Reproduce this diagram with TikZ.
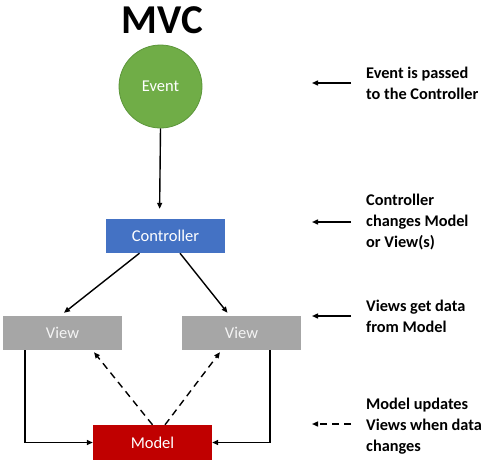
\documentclass[tikz,border=0pt]{standalone}
\usepackage{fontspec}
\setmainfont{Carlito}
\usetikzlibrary{arrows.meta}
\definecolor{evgreen}{HTML}{70AD47}
\definecolor{evgreenb}{HTML}{5B9539}
\definecolor{ctblue}{HTML}{4472C4}
\definecolor{vwgray}{HTML}{A6A6A6}
\definecolor{mdred}{HTML}{C00000}
\definecolor{vwtext}{HTML}{F4F4F4}
\tikzset{
  boxnode/.style={rectangle, minimum width=119pt, minimum height=34pt, inner sep=0pt,
    font=\fontsize{16.5}{20}\selectfont, text=white},
  conn/.style={line width=1.4pt, -{Triangle[length=6pt,width=5pt]}},
  dconn/.style={conn, dash pattern=on 7pt off 5pt},
  annot/.style={anchor=west, inner sep=0pt, align=left,
    font=\fontsize{16.3}{21}\selectfont\bfseries},
}
\begin{document}
\begin{tikzpicture}[x=1pt,y=-1pt]
\useasboundingbox (0,0) rectangle (500,474);
\node[anchor=base, inner sep=0pt, font=\fontsize{41}{44}\selectfont\bfseries] (title) at (162.5,33) {MVC};
\node[circle, fill=evgreen, draw=evgreenb, line width=0.8pt, minimum size=83pt, inner sep=0pt,
  font=\fontsize{16.5}{20}\selectfont, text=white] (event) at (160.5,86.5) {Event};
\node[boxnode, fill=ctblue] (ctrl) at (165.5,236) {Controller};
\node[boxnode, fill=vwgray, text=vwtext] (view1) at (62.5,333) {View};
\node[boxnode, fill=vwgray, text=vwtext] (view2) at (241.5,333) {View};
\node[boxnode, fill=mdred, minimum height=35pt] (model) at (152.5,442.5) {Model};

\draw[conn, shorten >=10pt] (event.south) -- ([xshift=-6pt]ctrl.north);
\draw[conn] ([xshift=-26pt]ctrl.south) -- ([xshift=1.5pt,yshift=3pt]view1.north);
\draw[conn] ([xshift=14.5pt]ctrl.south) -- ([xshift=-14pt,yshift=3pt]view2.north);
\draw[conn] ([xshift=-37.5pt]view1.south) |- (model.west);
\draw[conn] ([xshift=28.5pt]view2.south) |- (model.east);
\draw[dconn] ([xshift=0pt]model.north) -- ([xshift=31.5pt,yshift=-2pt]view1.south);
\draw[dconn] ([xshift=12.5pt]model.north) -- ([xshift=-21.5pt,yshift=-2pt]view2.south);

\coordinate (a1s) at (351,83);  \coordinate (a1e) at (312,83);
\coordinate (a2s) at (351,222); \coordinate (a2e) at (312,222);
\coordinate (a3s) at (351,316); \coordinate (a3e) at (312,316);
\coordinate (a4s) at (351,424); \coordinate (a4e) at (312,424);
\draw[conn] (a1s) -- (a1e);
\draw[conn] (a2s) -- (a2e);
\draw[conn] (a3s) -- (a3e);
\draw[dconn] (a4s) -- (a4e);

\node[annot] (t1) at (366,83) {Event is passed\\to the Controller};
\node[annot] (t2) at (366,222) {Controller\\changes Model\\or View(s)};
\node[annot] (t3) at (366,316) {Views get data\\from Model};
\node[annot] (t4) at (366,426) {Model updates\\Views when data\\changes};
\end{tikzpicture}
\end{document}
